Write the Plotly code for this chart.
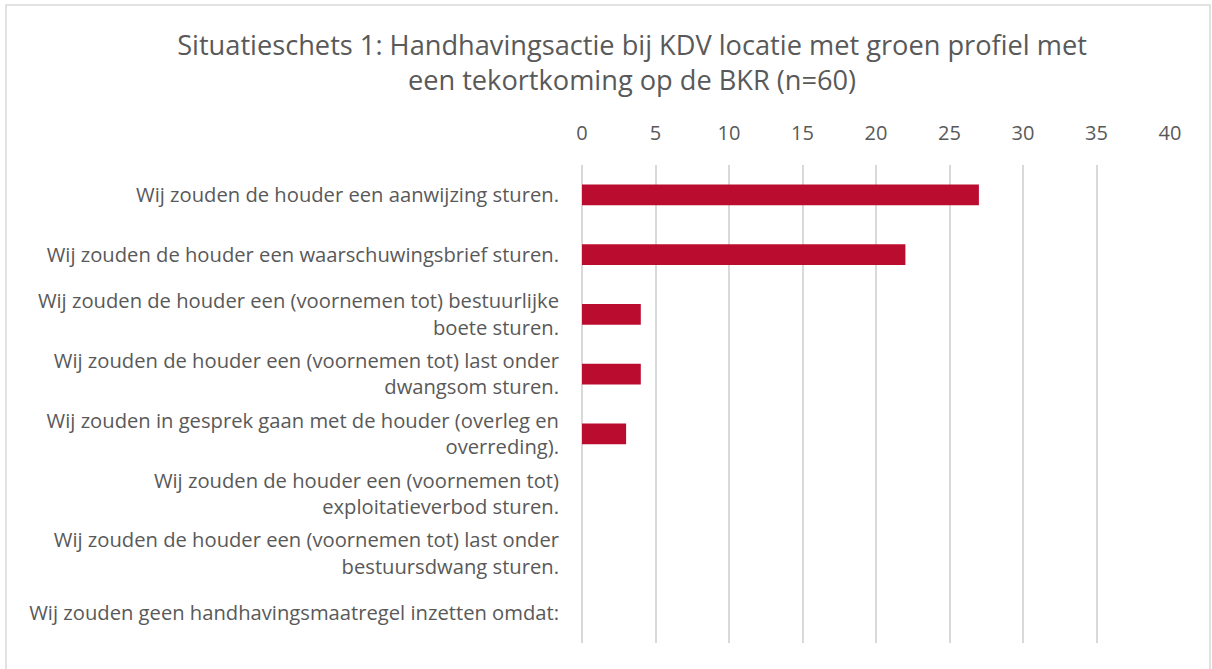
import plotly.graph_objects as go

categories = [
    "Wij zouden de houder een aanwijzing sturen.",
    "Wij zouden de houder een waarschuwingsbrief sturen.",
    "Wij zouden de houder een (voornemen tot) bestuurlijke<br>boete sturen.",
    "Wij zouden de houder een (voornemen tot) last onder<br>dwangsom sturen.",
    "Wij zouden in gesprek gaan met de houder (overleg en<br>overreding).",
    "Wij zouden de houder een (voornemen tot)<br>exploitatieverbod sturen.",
    "Wij zouden de houder een (voornemen tot) last onder<br>bestuursdwang sturen.",
    "Wij zouden geen handhavingsmaatregel inzetten omdat:",
]
values = [27, 22, 4, 4, 3, 0, 0, 0]
tick_vals = [0, 5, 10, 15, 20, 25, 30, 35, 40]

W, H = 1212, 669
PL, PR, PT, PB = 582, 1170, 165, 643
L, R, T, B = PL, W - PR, PT, H - PB
pw = W - L - R
ph = H - T - B

fig = go.Figure(go.Bar(
    y=categories, x=values, orientation="h",
    marker=dict(color="#BA0C2F", line=dict(width=0)),
    width=0.35,
))

font = "'Open Sans', sans-serif"

def px2paper_x(px):
    return (px - L) / pw

def px2paper_y(py):
    return (H - B - py) / ph

fig.update_layout(
    width=W, height=H,
    margin=dict(l=L, r=R, t=T, b=B, autoexpand=False),
    paper_bgcolor="white", plot_bgcolor="white",
    showlegend=False,
    font=dict(family=font, color="#595959", size=20.2),
    title=dict(
        text="Situatieschets 1: Handhavingsactie bij KDV locatie met groen profiel met<br>een tekortkoming op de BKR (n=60)",
        x=632 / W, xanchor="center", y=1 - 55 / H, yanchor="middle",
        font=dict(size=27.2, color="#595959", family=font),
    ),
    xaxis=dict(
        side="top", range=[0, 40], tickvals=tick_vals,
        showgrid=True, gridcolor="#D9D9D9", gridwidth=1.5,
        zeroline=True, zerolinecolor="#D9D9D9", zerolinewidth=1.5,
        showline=False, ticks="", ticklabelstandoff=20,
        tickfont=dict(size=20, color="#595959"),
    ),
    yaxis=dict(
        autorange="reversed", showgrid=False, showline=False, ticks="",
        ticklabelstandoff=22, tickfont=dict(size=20.2, color="#595959"),
    ),
    shapes=[dict(
        type="rect", xref="paper", yref="paper",
        x0=px2paper_x(6), x1=px2paper_x(1210),
        y0=px2paper_y(720), y1=px2paper_y(5),
        line=dict(color="#D9D9D9", width=1.5), fillcolor="rgba(0,0,0,0)",
        layer="below",
    )],
)

fig.write_html(
    "out.html",
    config={"displayModeBar": False},
    post_script="document.body.style.margin='0';document.body.style.overflow='hidden';",
)
